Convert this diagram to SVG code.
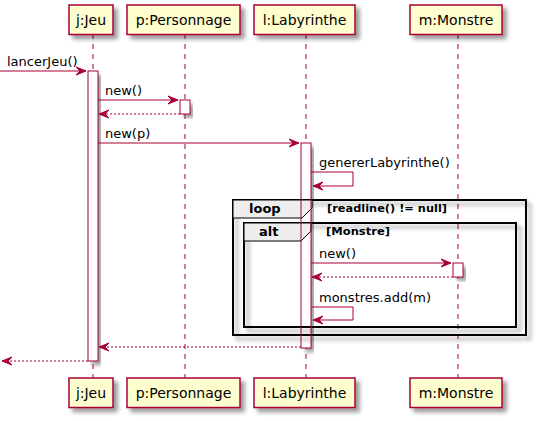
<svg xmlns="http://www.w3.org/2000/svg" width="539" height="421" viewBox="0 0 539 421">
<defs>
<filter id="sh" x="-20%" y="-20%" width="150%" height="150%">
<feGaussianBlur in="SourceAlpha" stdDeviation="2"/>
<feOffset dx="4" dy="4" result="b"/>
<feComponentTransfer in="b" result="c"><feFuncA type="linear" slope="0.4"/></feComponentTransfer>
<feMerge><feMergeNode in="c"/><feMergeNode in="SourceGraphic"/></feMerge>
</filter>
</defs>
<style>
.part{fill:#FEFECE;stroke:#A80036;stroke-width:1.5;filter:url(#sh)}
.pt{font-family:"DejaVu Sans",sans-serif;font-size:14px;fill:#000;text-anchor:middle}
.life{stroke:#A80036;stroke-width:1;stroke-dasharray:5,5;fill:none}
.act{fill:#FFFFFF;stroke:none;filter:url(#sh)}
.acto{fill:none;stroke:#A80036;stroke-width:1}
.msg{stroke:#A80036;stroke-width:1;fill:none}
.ret{stroke:#A80036;stroke-width:1;fill:none;stroke-dasharray:2,2}
.ah{fill:#A80036;stroke:#A80036;stroke-width:1}
.mt{font-family:"DejaVu Sans",sans-serif;font-size:13px;fill:#000}
.frame{fill:none;stroke:#000;stroke-width:2;filter:url(#sh)}
.tab{fill:#EEEEEE;stroke:#000;stroke-width:1}
.ft{font-family:"DejaVu Sans",sans-serif;font-size:13px;font-weight:bold;fill:#000}
.fc{font-family:"DejaVu Sans",sans-serif;font-size:11px;font-weight:bold;fill:#000}
</style>
<g id="lifelines">
<line class="life" x1="93" y1="34" x2="93" y2="378"/>
<line class="life" x1="185" y1="34" x2="185" y2="378"/>
<line class="life" x1="306" y1="34" x2="306" y2="378"/>
<line class="life" x1="458" y1="34" x2="458" y2="378"/>
</g>
<g id="activation-fills">
<rect class="act" x="88" y="71" width="10" height="290"/>
<rect class="act" x="180" y="100" width="10" height="14"/>
<rect class="act" x="301" y="143" width="10" height="205"/>
<rect class="act" x="453" y="263" width="10" height="14"/>
</g>
<g id="frames">
<rect class="frame" x="233" y="200" width="293" height="135"/>
<path class="tab" d="M233,200 L312,200 L312,208 L302,218 L233,218 Z"/>
<text class="ft" x="249" y="213">loop</text>
<text class="fc" x="327" y="212" textLength="120" lengthAdjust="spacingAndGlyphs">[readline() != null]</text>
<rect class="frame" x="244" y="223" width="272" height="104"/>
<path class="tab" d="M244,223 L311,223 L311,231 L301,241 L244,241 Z"/>
<text class="ft" x="259" y="236">alt</text>
<text class="fc" x="326" y="235" textLength="64" lengthAdjust="spacingAndGlyphs">[Monstre]</text>
</g>
<g id="activations">
<rect class="acto" x="88" y="71" width="10" height="290"/>
<rect class="acto" x="180" y="100" width="10" height="14"/>
<rect class="acto" x="301" y="143" width="10" height="205"/>
<rect class="acto" x="453" y="263" width="10" height="14"/>
</g>
<g id="j-jeu">
<rect class="part" x="69" y="5" width="44" height="29.5"/>
<text class="pt" x="91" y="24.5">j:Jeu</text>
<rect class="part" x="69" y="378" width="44" height="29.5"/>
<text class="pt" x="91" y="397.5">j:Jeu</text>
</g>
<g id="p-personnage">
<rect class="part" x="127" y="5" width="113" height="29.5"/>
<text class="pt" x="183.5" y="24.5">p:Personnage</text>
<rect class="part" x="127" y="378" width="113" height="29.5"/>
<text class="pt" x="183.5" y="397.5">p:Personnage</text>
</g>
<g id="l-labyrinthe">
<rect class="part" x="254" y="5" width="101" height="29.5"/>
<text class="pt" x="304.5" y="24.5">l:Labyrinthe</text>
<rect class="part" x="254" y="378" width="101" height="29.5"/>
<text class="pt" x="304.5" y="397.5">l:Labyrinthe</text>
</g>
<g id="m-monstre">
<rect class="part" x="410" y="5" width="92" height="29.5"/>
<text class="pt" x="456" y="24.5">m:Monstre</text>
<rect class="part" x="410" y="378" width="92" height="29.5"/>
<text class="pt" x="456" y="397.5">m:Monstre</text>
</g>
<g id="connectors">
<line class="msg" x1="0" y1="71" x2="86" y2="71"/>
<polygon class="ah" points="76,67 86,71 76,75 80,71"/>
<text class="mt" x="7" y="66">lancerJeu()</text>

<line class="msg" x1="98" y1="100" x2="178" y2="100"/>
<polygon class="ah" points="168,96 178,100 168,104 172,100"/>
<text class="mt" x="105" y="95">new()</text>

<line class="ret" x1="180" y1="114" x2="99" y2="114"/>
<polygon class="ah" points="109,110 99,114 109,118 105,114"/>

<line class="msg" x1="98" y1="143" x2="299" y2="143"/>
<polygon class="ah" points="289,139 299,143 289,147 293,143"/>
<text class="mt" x="105" y="138">new(p)</text>

<polyline class="msg" points="311,172 353,172 353,186 313,186"/>
<polygon class="ah" points="323,182 313,186 323,190 319,186"/>
<text class="mt" x="319" y="167">genererLabyrinthe()</text>

<line class="msg" x1="311" y1="263" x2="451" y2="263"/>
<polygon class="ah" points="441,259 451,263 441,267 445,263"/>
<text class="mt" x="319" y="258">new()</text>

<line class="ret" x1="453" y1="277" x2="312" y2="277"/>
<polygon class="ah" points="322,273 312,277 322,281 318,277"/>

<polyline class="msg" points="311,307 353,307 353,320 313,320"/>
<polygon class="ah" points="323,316 313,320 323,324 319,320"/>
<text class="mt" x="319" y="302">monstres.add(m)</text>

<line class="ret" x1="301" y1="347" x2="99" y2="347"/>
<polygon class="ah" points="109,343 99,347 109,351 105,347"/>

<line class="ret" x1="88" y1="361" x2="2" y2="361"/>
<polygon class="ah" points="12,357 2,361 12,365 8,361"/>
</g>
</svg>
